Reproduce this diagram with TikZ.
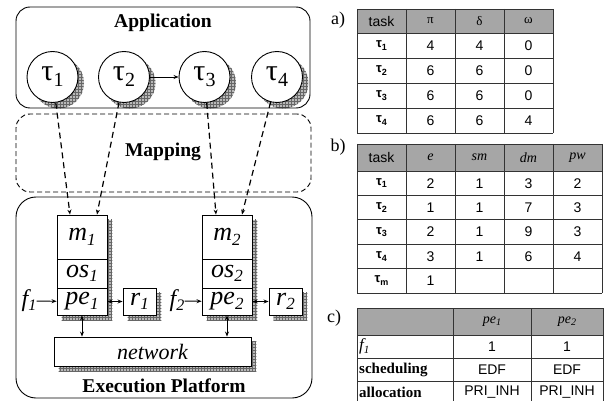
\documentclass[tikz,border=0pt]{standalone}
\usepackage{fontspec}
\setmainfont{Liberation Serif}
\setsansfont{Liberation Sans}
\usetikzlibrary{arrows.meta,patterns,backgrounds}

\newcommand\fs[1]{\fontsize{#1}{#1}\selectfont}
% \low{size}{drop}{text}: a lowered, smaller index
\newcommand\low[3]{\raisebox{-#2pt}{\fs{#1}#3}}
\newcommand\ctau[1]{{\fs{30}τ\low{20}{6}{#1}}}
\newcommand\unit[2]{{\fs{26}\itshape #1\low{17}{4.5}{#2}}}
\newcommand\ttau[1]{{\sffamily\bfseries\fs{13}τ\low{9}{2.5}{#1}}}
\newcommand\tpe[1]{{\fs{14}\itshape pe\low{10}{2}{#1}}}

\begin{document}
\begin{tikzpicture}[x=1pt,y=-1pt,
  lbl/.style={font=\fs{19.5}\bfseries, inner sep=0},
  group/.style={draw, line width=0.9pt, rounded corners=14pt, inner sep=0},
  taskc/.style={circle, draw, fill=white, line width=0.9pt, minimum size=51pt, inner sep=0},
  unitbox/.style={draw, fill=white, line width=0.9pt, inner sep=0, minimum width=50pt},
  hatch/.style={fill=gray!55, postaction={pattern=grid, pattern color=black!60}},
  link/.style={line width=0.9pt, -{Stealth[length=5pt,width=4pt]}},
  bilink/.style={line width=0.9pt, {Stealth[length=5pt,width=4pt]}-{Stealth[length=5pt,width=4pt]}},
  mapline/.style={line width=1.2pt, dash pattern=on 6pt off 4pt, -{Stealth[length=5pt,width=4pt]}},
  tline/.style={draw=black!80, line width=0.8pt},
  hdr/.style={fill=black!35},
  tsf/.style={font=\sffamily\fs{14}, inner sep=0},
  tgr/.style={font=\fs{13}, inner sep=0},
  tab/.style={font=\fs{18}, inner sep=0}
]
\useasboundingbox (0,0) rectangle (605,401);

% ---------- groups ----------
\node[group, minimum width=294pt, minimum height=101pt] (app) at (163,57.5) {};
\node[group, dashed, dash pattern=on 5pt off 3pt, minimum width=295pt, minimum height=78pt] (map) at (163.5,153) {};
\node[group, rounded corners=20pt, minimum width=296pt, minimum height=201pt] (exe) at (164,297.5) {};
\node[lbl] (applbl) at (163,23) {Application};
\node[lbl] (maplbl) at (163,152) {Mapping};
\node[lbl] (exelbl) at (164,386) {Execution Platform};

% ---------- tasks ----------
\node[taskc] (t1) at (52.5,77) {\ctau{1}};
\node[taskc] (t2) at (124,77) {\ctau{2}};
\node[taskc] (t3) at (204.5,77) {\ctau{3}};
\node[taskc] (t4) at (277,77) {\ctau{4}};
\draw[link] (t2) -- (t3);

% ---------- processing units ----------
\node[unitbox, minimum height=44pt] (m1) at (82,237) {\unit{m}{1}};
\node[unitbox, minimum height=29pt] (os1) at (82,273.5) {\unit{os}{1}};
\node[unitbox, minimum height=27pt] (pe1) at (82,301.5) {\unit{pe}{1}};
\node[unitbox, minimum height=44pt] (m2) at (227,237) {\unit{m}{2}};
\node[unitbox, minimum height=29pt] (os2) at (227,273.5) {\unit{os}{2}};
\node[unitbox, minimum height=27pt] (pe2) at (227,301.5) {\unit{pe}{2}};
\node[unitbox, minimum width=33pt, minimum height=27pt] (r1) at (139.5,301.5) {\unit{r}{1}};
\node[unitbox, minimum width=33pt, minimum height=27pt] (r2) at (285.5,301.5) {\unit{r}{2}};
\node[unitbox, minimum width=197pt, minimum height=29pt] (net) at (152.5,351.5) {{\fs{22}\itshape network}};
\node[inner sep=0] (f1) at (29,301) {{\fs{24}\itshape f\low{16}{4}{1}}};
\node[inner sep=0] (f2) at (177,301) {{\fs{24}\itshape f\low{16}{4}{2}}};

\draw[link] (f1) -- (pe1);
\draw[link] (f2) -- (pe2);
\draw[bilink] (pe1) -- (r1);
\draw[bilink] (pe2) -- (r2);
\draw[bilink] (pe1.south) -- (pe1.south |- net.north);
\draw[bilink] (pe2.south) -- (pe2.south |- net.north);

% ---------- mapping of tasks onto units ----------
\coordinate (in11) at ([xshift=-12pt]m1.north);
\coordinate (in12) at ([xshift=15pt]m1.north);
\coordinate (in21) at ([xshift=-11pt]m2.north);
\coordinate (in22) at ([xshift=15pt]m2.north);
\draw[mapline] (t1) -- (in11);
\draw[mapline] (t2) -- (in12);
\draw[mapline] (t3) -- (in21);
\draw[mapline] (t4) -- (in22);

% ---------- shadows ----------
\begin{scope}[on background layer]
  \foreach \n in {t1,t2,t3,t4}
    \fill[hatch] ([shift={(6,6)}]\n.center) circle (25.5pt);
  \fill[hatch] ([shift={(5,5)}]m1.north west) rectangle ([shift={(5,5)}]pe1.south east);
  \fill[hatch] ([shift={(5,5)}]m2.north west) rectangle ([shift={(5,5)}]pe2.south east);
  \foreach \n in {r1,r2,net}
    \fill[hatch] ([shift={(5,5)}]\n.north west) rectangle ([shift={(5,5)}]\n.south east);
\end{scope}

% ---------- table a ----------
\node[tab] (la) at (338,20) {a)};
\fill[hdr] (357,9) rectangle (553,33);
\foreach \x in {357,406,455,504,553} \draw[tline] (\x,9) -- (\x,133);
\foreach \y in {9,33,58,83,108,133} \draw[tline] (357,\y) -- (553,\y);
\node[tsf] (a-h0) at (381.5,21) {task};
\node[tgr] (a-h1) at (430.5,21) {π};
\node[tgr] (a-h2) at (479.5,21) {δ};
\node[tgr] (a-h3) at (528.5,21) {ω};
\foreach \p/\d/\w [count=\i] in {4/4/0,6/6/0,6/6/0,6/6/4} {
  \pgfmathsetmacro\yc{45.5+25*(\i-1)}
  \node[inner sep=0] (a-\i-0) at (381.5,\yc) {\ttau{\i}};
  \node[tsf] (a-\i-1) at (430.5,\yc) {\p};
  \node[tsf] (a-\i-2) at (479.5,\yc) {\d};
  \node[tsf] (a-\i-3) at (528.5,\yc) {\w};
}

% ---------- table b ----------
\node[tab] (lb) at (338,147) {b)};
\fill[hdr] (357,144) rectangle (602,171);
\foreach \x in {357,406,455,504,553,602} \draw[tline] (\x,144) -- (\x,293);
\foreach \y in {144,171,195.4,219.8,244.2,268.6,293} \draw[tline] (357,\y) -- (602,\y);
\node[tsf] (b-h0) at (381.5,157.5) {task};
\node[tgr, font=\fs{14}\itshape] (b-h1) at (430.5,157.5) {e};
\node[tgr, font=\fs{14}\itshape] (b-h2) at (479.5,157.5) {sm};
\node[tgr, font=\fs{14}\itshape] (b-h3) at (528.5,157.5) {dm};
\node[tgr, font=\fs{14}\itshape] (b-h4) at (577.5,157.5) {pw};
\foreach \t/\e/\s/\d/\w [count=\i] in {1/2/1/3/2,2/1/1/7/3,3/2/1/9/3,4/3/1/6/4,m/1///} {
  \pgfmathsetmacro\yc{183.2+24.4*(\i-1)}
  \node[inner sep=0] (b-\i-0) at (381.5,\yc) {\ttau{\t}};
  \node[tsf] (b-\i-1) at (430.5,\yc) {\e};
  \node[tsf] (b-\i-2) at (479.5,\yc) {\s};
  \node[tsf] (b-\i-3) at (528.5,\yc) {\d};
  \node[tsf] (b-\i-4) at (577.5,\yc) {\w};
}

% ---------- table c ----------
\node[tab] (lc) at (334,318) {c)};
\fill[hdr] (357,308) rectangle (603,335);
\foreach \x in {357,453,531,603} \draw[tline] (\x,308) -- (\x,404);
\foreach \y in {308,335,358,381,404} \draw[tline] (357,\y) -- (603,\y);
\node[inner sep=0] (c-h1) at (492,321.5) {\tpe{1}};
\node[inner sep=0] (c-h2) at (567,321.5) {\tpe{2}};
\node[inner sep=0, anchor=west] (c-1-0) at (359,346.5) {{\fs{17}\itshape f\low{11}{3}{1}}};
\node[tsf] (c-1-1) at (492,346.5) {1};
\node[tsf] (c-1-2) at (567,346.5) {1};
\node[inner sep=0, anchor=west, font=\fs{15}\bfseries] (c-2-0) at (359,369.5) {scheduling};
\node[tsf] (c-2-1) at (492,369.5) {EDF};
\node[tsf] (c-2-2) at (567,369.5) {EDF};
\node[inner sep=0, anchor=west, font=\fs{15}\bfseries] (c-3-0) at (359,392.5) {allocation};
\node[tsf] (c-3-1) at (492,392.5) {PRI\_INH};
\node[tsf] (c-3-2) at (567,392.5) {PRI\_INH};
\end{tikzpicture}
\end{document}
